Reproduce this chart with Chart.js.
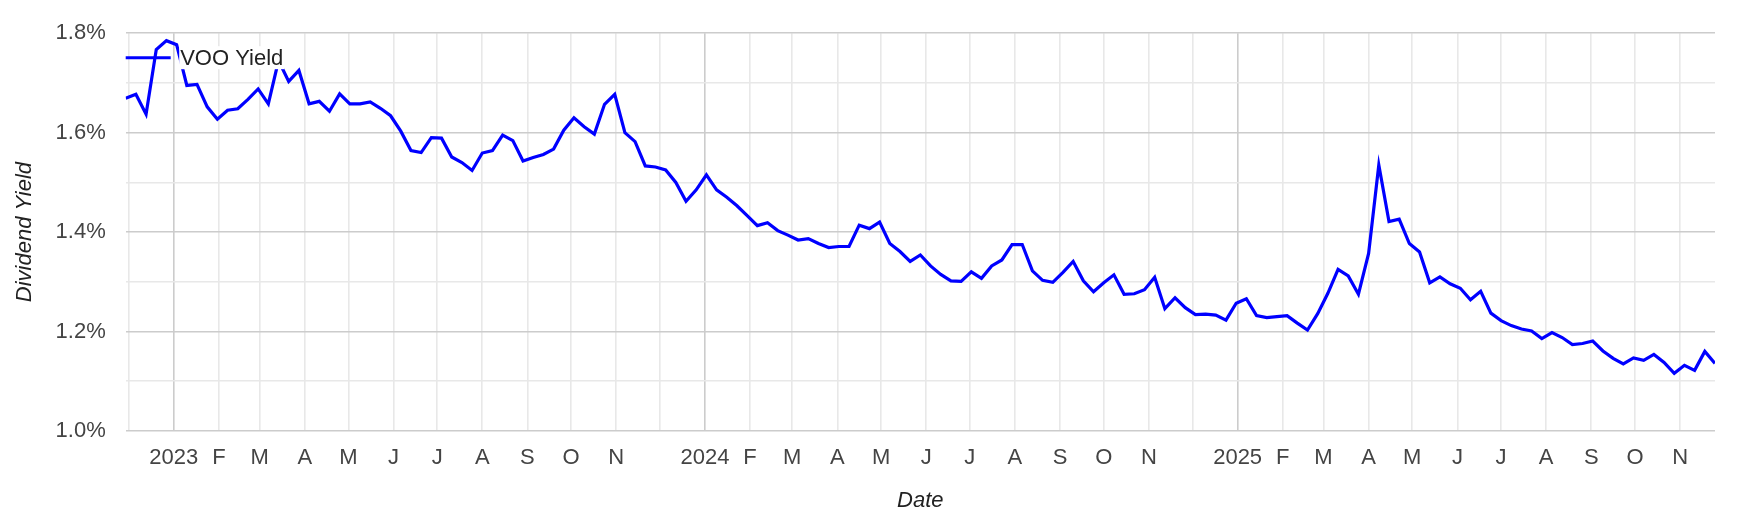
<!DOCTYPE html>
<html>
<head>
<meta charset="utf-8">
<script src="https://cdn.jsdelivr.net/npm/chart.js@4/dist/chart.umd.min.js"></script>
<style>
  html, body { margin: 0; padding: 0; background: #ffffff; }
  #wrap { width: 1762px; height: 526px; position: relative; }
  canvas { display: block; }
</style>
</head>
<body>
<div id="wrap"><canvas id="chart" width="1762" height="526"></canvas></div>
<script>
// ---- Data (weekly) ----
const dates = [
  "2022-11-29","2022-12-06","2022-12-13","2022-12-20","2022-12-27",
  "2023-01-03","2023-01-10","2023-01-17","2023-01-24","2023-01-31",
  "2023-02-07","2023-02-14","2023-02-21","2023-02-28",
  "2023-03-07","2023-03-14","2023-03-21","2023-03-28",
  "2023-04-04","2023-04-11","2023-04-18","2023-04-25",
  "2023-05-02","2023-05-09","2023-05-16","2023-05-23","2023-05-30",
  "2023-06-06","2023-06-13","2023-06-20","2023-06-27",
  "2023-07-04","2023-07-11","2023-07-18","2023-07-25",
  "2023-08-01","2023-08-08","2023-08-15","2023-08-22","2023-08-29",
  "2023-09-05","2023-09-12","2023-09-19","2023-09-26",
  "2023-10-03","2023-10-10","2023-10-17","2023-10-24","2023-10-31",
  "2023-11-07","2023-11-14","2023-11-21","2023-11-28",
  "2023-12-05","2023-12-12","2023-12-19","2023-12-26",
  "2024-01-02","2024-01-09","2024-01-16","2024-01-23","2024-01-30",
  "2024-02-06","2024-02-13","2024-02-20","2024-02-27",
  "2024-03-05","2024-03-12","2024-03-19","2024-03-26",
  "2024-04-02","2024-04-09","2024-04-16","2024-04-23","2024-04-30",
  "2024-05-07","2024-05-14","2024-05-21","2024-05-28",
  "2024-06-04","2024-06-11","2024-06-18","2024-06-25",
  "2024-07-02","2024-07-09","2024-07-16","2024-07-23","2024-07-30",
  "2024-08-06","2024-08-13","2024-08-20","2024-08-27",
  "2024-09-03","2024-09-10","2024-09-17","2024-09-24",
  "2024-10-01","2024-10-08","2024-10-15","2024-10-22","2024-10-29",
  "2024-11-05","2024-11-12","2024-11-19","2024-11-26",
  "2024-12-03","2024-12-10","2024-12-17","2024-12-24","2024-12-31",
  "2025-01-07","2025-01-14","2025-01-21","2025-01-28",
  "2025-02-04","2025-02-11","2025-02-18","2025-02-25",
  "2025-03-04","2025-03-11","2025-03-18","2025-03-25",
  "2025-04-01","2025-04-08","2025-04-15","2025-04-22","2025-04-29",
  "2025-05-06","2025-05-13","2025-05-20","2025-05-27",
  "2025-06-03","2025-06-10","2025-06-17","2025-06-24",
  "2025-07-01","2025-07-08","2025-07-15","2025-07-22","2025-07-29",
  "2025-08-05","2025-08-12","2025-08-19","2025-08-26",
  "2025-09-02","2025-09-09","2025-09-16","2025-09-23","2025-09-30",
  "2025-10-07","2025-10-14","2025-10-21","2025-10-28",
  "2025-11-04","2025-11-11","2025-11-18","2025-11-25"
];

const vooYield = [
  1.669,1.677,1.637,1.767,1.785,
  1.777,1.695,1.697,1.652,1.627,
  1.645,1.648,1.667,1.688,
  1.658,1.745,1.703,1.725,
  1.658,1.663,1.643,1.678,
  1.658,1.658,1.662,1.649,1.634,
  1.603,1.564,1.560,1.590,
  1.589,1.551,1.540,1.524,
  1.559,1.564,1.595,1.584,1.543,
  1.550,1.556,1.567,1.605,
  1.630,1.612,1.597,1.657,1.677,
  1.600,1.582,1.533,1.531,
  1.525,1.500,1.462,1.485,
  1.515,1.485,1.470,1.453,1.433,
  1.413,1.419,1.403,1.394,
  1.384,1.387,1.377,1.369,
  1.371,1.371,1.414,1.407,1.420,
  1.377,1.361,1.341,1.354,
  1.332,1.315,1.302,1.301,
  1.320,1.307,1.332,1.344,1.375,
  1.375,1.322,1.303,1.299,
  1.319,1.341,1.302,1.280,
  1.298,1.314,1.275,1.276,1.284,
  1.309,1.246,1.268,1.248,
  1.234,1.235,1.233,1.223,1.257,
  1.266,1.232,1.228,1.230,
  1.232,1.217,1.203,1.236,
  1.277,1.325,1.312,1.275,
  1.357,1.535,1.421,1.426,1.377,
  1.360,1.298,1.310,1.296,
  1.287,1.264,1.281,1.237,
  1.222,1.212,1.205,1.201,1.186,
  1.198,1.188,1.174,1.176,
  1.181,1.161,1.146,1.135,1.147,
  1.142,1.154,1.138,1.116,
  1.132,1.122,1.160,1.136
];

const seriesLabel = "VOO Yield";
const yAxisTitle = "Dividend Yield";
const xAxisTitle = "Date";

// Month tick positions (first of each month) and their labels
const xTickDates = [
  "2022-12-01",
  "2023-01-01","2023-02-01","2023-03-01","2023-04-01","2023-05-01","2023-06-01",
  "2023-07-01","2023-08-01","2023-09-01","2023-10-01","2023-11-01","2023-12-01",
  "2024-01-01","2024-02-01","2024-03-01","2024-04-01","2024-05-01","2024-06-01",
  "2024-07-01","2024-08-01","2024-09-01","2024-10-01","2024-11-01","2024-12-01",
  "2025-01-01","2025-02-01","2025-03-01","2025-04-01","2025-05-01","2025-06-01",
  "2025-07-01","2025-08-01","2025-09-01","2025-10-01","2025-11-01"
];
const xTickLabels = [
  "",
  "2023","F","M","A","M","J","J","A","S","O","N","",
  "2024","F","M","A","M","J","J","A","S","O","N","",
  "2025","F","M","A","M","J","J","A","S","O","N"
];
const yMin = 1.0, yMax = 1.8, yStep = 0.1;

// ---- Build ----
const ts = s => Date.parse(s + "T00:00:00Z");
const points = dates.map((d, i) => ({ x: ts(d), y: vooYield[i] }));
const tickValues = xTickDates.map(ts);
const labelByValue = new Map(tickValues.map((v, i) => [v, xTickLabels[i]]));
const FONT = '"Liberation Sans", Arial, Helvetica, sans-serif';

const insideLegend = {
  id: "insideLegend",
  afterDatasetsDraw(chart) {
    const { ctx, chartArea } = chart;
    ctx.save();
    const y = chartArea.top + 24.5;
    ctx.font = "22px " + FONT;
    const tx = chartArea.left + 54.5;
    const w = ctx.measureText(seriesLabel).width;
    ctx.fillStyle = "#ffffff";
    ctx.fillRect(tx - 1, y - 11.5, w + 2, 23);
    ctx.strokeStyle = "#0000ff";
    ctx.lineWidth = 3;
    ctx.beginPath();
    ctx.moveTo(chartArea.left, y);
    ctx.lineTo(chartArea.left + 45, y);
    ctx.stroke();
    ctx.fillStyle = "#222222";
    ctx.textBaseline = "middle";
    ctx.textAlign = "left";
    ctx.fillText(seriesLabel, tx, y + 1);
    ctx.restore();
  }
};

new Chart(document.getElementById("chart"), {
  type: "line",
  data: {
    datasets: [{
      label: seriesLabel,
      data: points,
      borderColor: "#0000ff",
      backgroundColor: "#0000ff",
      borderWidth: 3.2,
      pointRadius: 0,
      tension: 0,
      fill: false,
      borderJoinStyle: "miter"
    }]
  },
  options: {
    responsive: false,
    animation: false,
    devicePixelRatio: 1,
    layout: { padding: { left: 0, right: 47, top: 33, bottom: 0 } },
    plugins: { legend: { display: false }, tooltip: { enabled: false } },
    scales: {
      x: {
        type: "linear",
        min: points[0].x,
        max: points[points.length - 1].x,
        afterBuildTicks: s => { s.ticks = tickValues.map(v => ({ value: v })); },
        afterFit: s => { s.height = 95; },
        border: { display: false },
        grid: {
          drawTicks: false,
          lineWidth: 1.6,
          color: c => {
            const v = c.tick && c.tick.value;
            if (v === undefined) return "#e8e8e8";
            return new Date(v).getUTCMonth() === 0 ? "#cccccc" : "#e8e8e8";
          }
        },
        ticks: {
          autoSkip: false,
          maxRotation: 0,
          minRotation: 0,
          padding: 14,
          color: "#444444",
          font: { family: FONT, size: 22 },
          callback: v => labelByValue.has(v) ? labelByValue.get(v) : ""
        },
        title: {
          display: true,
          text: xAxisTitle,
          color: "#222222",
          font: { family: FONT, size: 22, style: "italic" },
          padding: { top: 0, bottom: 12 }
        }
      },
      y: {
        min: yMin,
        max: yMax,
        afterFit: s => { s.width = 125.7; },
        border: { display: false },
        grid: {
          drawTicks: false,
          lineWidth: 1.6,
          color: c => {
            const v = c.tick && c.tick.value;
            if (v === undefined) return "#e8e8e8";
            return Math.round(v * 10) % 2 === 0 ? "#cccccc" : "#e8e8e8";
          }
        },
        ticks: {
          stepSize: yStep,
          autoSkip: false,
          padding: 20,
          color: "#444444",
          font: { family: FONT, size: 22 },
          callback: v => Math.round(v * 10) % 2 === 0 ? (Math.round(v * 10) / 10).toFixed(1) + "%" : ""
        },
        title: {
          display: true,
          text: yAxisTitle,
          color: "#222222",
          font: { family: FONT, size: 22, style: "italic" },
          padding: { top: 12, bottom: 0 }
        }
      }
    }
  },
  plugins: [insideLegend]
});
</script>
</body>
</html>
